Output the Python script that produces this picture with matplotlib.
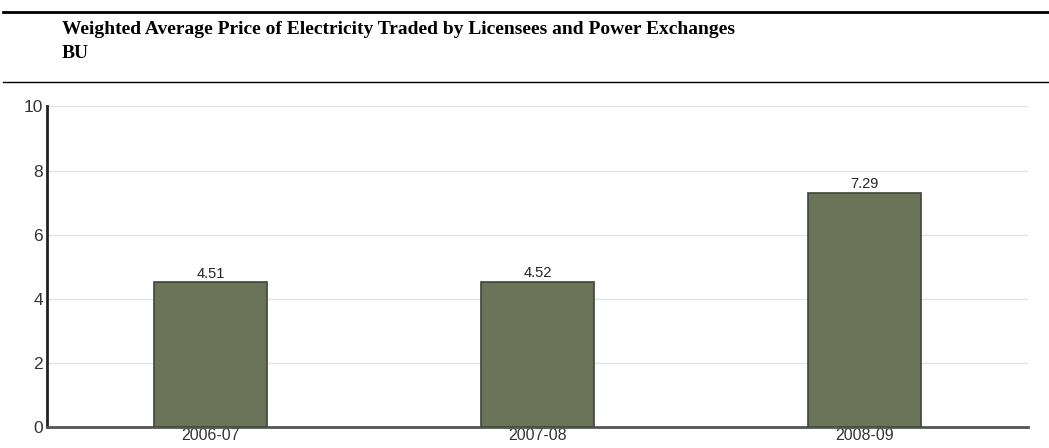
import matplotlib.pyplot as plt
from matplotlib.lines import Line2D

years = ["2006-07", "2007-08", "2008-09"]
price = [4.51, 4.52, 7.29]
yticks = [0, 2, 4, 6, 8, 10]

fig = plt.figure(figsize=(10.49, 4.48), dpi=100)
ax = fig.add_axes([0.0448, 0.0469, 0.9352, 0.7154])

x = range(len(years))
bars = ax.bar(x, price, width=0.345, color="#6b7359", edgecolor="#3e4638", linewidth=1.2, zorder=3)
for b, v in zip(bars, price):
    ax.text(b.get_x() + b.get_width() / 2, v + 0.06, f"{v:.2f}", ha="center", va="bottom",
            fontsize=10.5, color="#222222", family="Liberation Sans")

ax.set_xlim(-0.5, 2.5)
ax.set_ylim(0, 10)
ax.set_yticks(yticks)
ax.set_xticks(list(x))
ax.set_xticklabels(years)
ax.tick_params(length=0, labelsize=12.5, colors="#333333", pad=3)
ax.tick_params(axis="x", pad=0.5, labelsize=11.5)
for lab in ax.get_xticklabels() + ax.get_yticklabels():
    lab.set_family("Liberation Sans")
ax.grid(axis="y", color="#e2e2e2", linewidth=1, zorder=0)
for s in ["top", "right"]:
    ax.spines[s].set_visible(False)
ax.spines["left"].set_color("#222222")
ax.spines["left"].set_linewidth(2)
ax.spines["bottom"].set_color("#555555")
ax.spines["bottom"].set_linewidth(2)

# header rules and title
fig.add_artist(Line2D([0.003, 1.0], [1 - 12 / 448, 1 - 12 / 448], color="black", linewidth=2))
fig.add_artist(Line2D([0.003, 1.0], [1 - 82 / 448, 1 - 82 / 448], color="black", linewidth=1))
fig.text(62 / 1049, 1 - 29 / 448, "Weighted Average Price of Electricity Traded by Licensees and Power Exchanges",
         fontsize=14, fontweight="bold", family="Liberation Serif", va="center", ha="left")
fig.text(62 / 1049, 1 - 53 / 448, "BU", fontsize=14, fontweight="bold", family="Liberation Serif",
         va="center", ha="left")

fig.savefig("out.png", dpi=100)
